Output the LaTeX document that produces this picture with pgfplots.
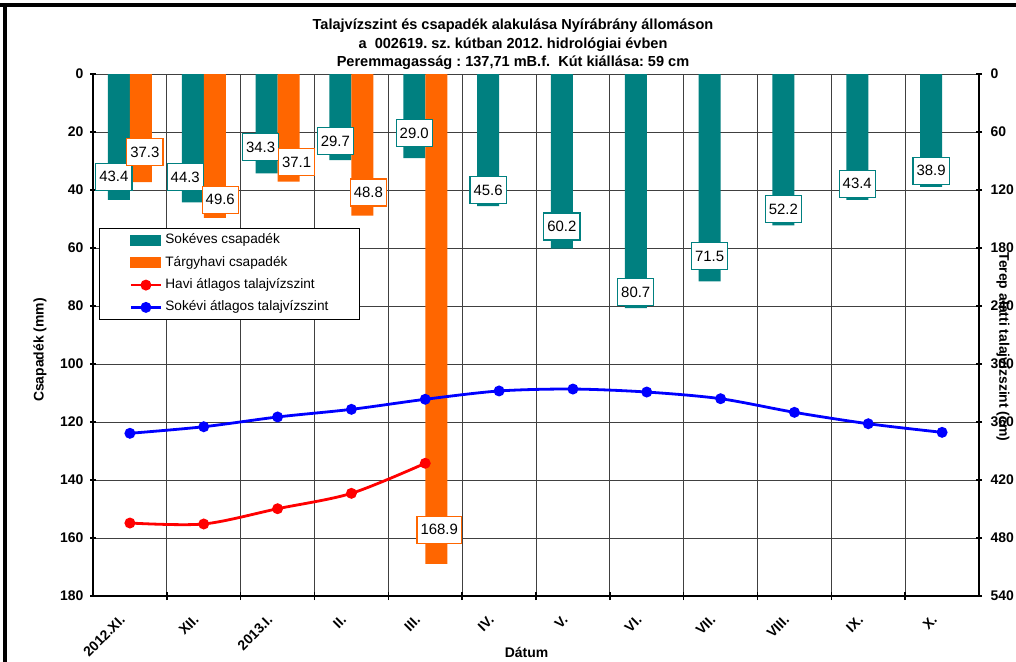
\documentclass[border=0pt]{standalone}
\usepackage{fontspec}
\setmainfont{Liberation Sans}
\usepackage{pgfplots}
\usepackage{pgfplotstable}
\pgfplotsset{compat=1.18}
\frenchspacing

\definecolor{sokcol}{HTML}{008080}
\definecolor{targycol}{HTML}{FF6600}
\definecolor{havicol}{HTML}{FF0000}
\definecolor{sokevicol}{HTML}{0000FF}

% csapadek (mm); dx, dy = label offsets in px
\pgfplotstableread{
x y lab dx dy
0 43.4 43.4 -5 9
1 44.3 44.3 -7.5 11.5
2 34.3 34.3 -6 12
3 29.7 29.7 -5 5
4 29.0 29.0 0 11
5 45.6 45.6 0 2
6 60.2 60.2 0 8
7 80.7 80.7 0 2
8 71.5 71.5 0 11
9 52.2 52.2 0 2
10 43.4 43.4 0 2
11 38.9 38.9 0 2
}\sokeves

\pgfplotstableread{
x y lab dx dy
0 37.3 37.3 4 16
1 49.6 49.6 5.5 4
2 37.1 37.1 8 5.6
3 48.8 48.8 6 9
4 168.9 168.9 3 20
}\targyhavi

\tikzset{
  labelbox/.style={draw=#1, line width=1.2bp, fill=white, text=black,
    font=\fontsize{15}{15}\selectfont, inner xsep=3.5bp, inner ysep=0pt,
    minimum height=27bp},
}

\pgfplotsset{
  common/.style={
    scale only axis, width=886bp, height=522bp,
    xmin=-0.5, xmax=11.5,
    y dir=reverse,
    /pgf/number format/assume math mode=true,
    ticklabel style={font=\bfseries\fontsize{14}{14}\selectfont},
    axis line style={line width=2.2bp, -},
    tick style={black, line width=1.6bp},
    tick align=center,
  },
}

\begin{document}
\begin{tikzpicture}
\useasboundingbox (-93bp,-66bp) rectangle (923bp,596bp);

\begin{axis}[common,
    at={(0,0)}, anchor=south west,
    ymin=0, ymax=180,
    ytick={0,20,...,180},
    xtick={0,...,11},
    xticklabels={2012.XI., XII., 2013.I., II., III., IV., V., VI., VII., VIII., IX., X.},
    minor xtick={0.5,1.5,...,10.5},
    every major x tick/.append style={draw=none},
    major tick length=6bp, minor tick length=8bp,
    xticklabel style={xshift=-11bp, yshift=-15bp, rotate=45, anchor=north east, inner sep=0pt},
    yticklabel style={xshift=-3bp},
    axis x line*=bottom, axis y line*=left,
    ymajorgrids, xminorgrids,
    grid style={black!75, line width=0.8bp},
    minor grid style={black!75, line width=0.8bp},
  ]
  \addplot[ybar, bar width=22bp, bar shift=-11bp, fill=sokcol, draw=none]
    table[x=x, y=y]{\sokeves};
  \addplot[ybar, bar width=22bp, bar shift=11bp, fill=targycol, draw=none]
    table[x=x, y=y]{\targyhavi};

  \addplot[draw=none, mark=none, point meta=explicit symbolic,
    visualization depends on={\thisrow{dx} \as \lbx},
    visualization depends on={\thisrow{dy} \as \lby},
    nodes near coords,
    every node near coord/.style={labelbox=sokcol, anchor=south,
      xshift=\lbx bp-11bp, yshift=\lby bp}]
    table[x=x, y=y, meta=lab]{\sokeves};
  \addplot[draw=none, mark=none, point meta=explicit symbolic,
    visualization depends on={\thisrow{dx} \as \lbx},
    visualization depends on={\thisrow{dy} \as \lby},
    nodes near coords,
    every node near coord/.style={labelbox=targycol, anchor=south,
      xshift=\lbx bp+11bp, yshift=\lby bp}]
    table[x=x, y=y, meta=lab]{\targyhavi};
\end{axis}

\begin{axis}[common,
    at={(0,0)}, anchor=south west,
    ymin=0, ymax=540,
    ytick={0,60,...,540},
    major tick length=6bp,
    yticklabel style={xshift=5bp},
    axis x line=none, axis y line*=right,
    legend image code/.code={\draw[mark repeat=2, mark phase=2, #1]
      plot coordinates {(0bp,0bp) (15bp,0bp) (30bp,0bp)};},
    legend cell align=left,
    legend style={at={(0.0068,0.705)}, anchor=north west,
      draw=black, fill=white, line width=1bp,
      font=\fontsize{13.7}{14}\selectfont,
      inner xsep=30bp, inner ysep=4.5bp, row sep=7.3bp,
      nodes={inner sep=1bp, text height=10bp, text depth=3bp},
      /tikz/every odd column/.style={column sep=2bp}},
  ]
  \addlegendimage{legend image code/.code={\fill[sokcol] (0bp,-5bp) rectangle (30bp,5bp);}}
  \addlegendentry{Sokéves csapadék}
  \addlegendimage{legend image code/.code={\fill[targycol] (0bp,-5bp) rectangle (30bp,5bp);}}
  \addlegendentry{Tárgyhavi csapadék}

  \addplot[havicol, line width=2.8bp, smooth, mark=*, mark size=4bp]
    coordinates {(0,464.5) (1,465.5) (2,449.7) (3,433.8) (4,402.7)};
  \addlegendentry{Havi átlagos talajvízszint}
  \addplot[sokevicol, line width=2.8bp, smooth, mark=*, mark size=4bp]
    coordinates {(0,371.7) (1,364.9) (2,354.8) (3,346.9) (4,336.5) (5,327.9)
                 (6,325.9) (7,329.0) (8,335.9) (9,350.0) (10,361.8) (11,370.7)};
  \addlegendentry{Sokévi átlagos talajvízszint}
\end{axis}

\begin{scope}[every node/.style={font=\bfseries\fontsize{14.6}{15}\selectfont, anchor=base}]
  \node at (420bp,566bp) {Talajvízszint és csapadék alakulása Nyírábrány állomáson};
  \node at (420bp,547.7bp) {a\ \ 002619. sz. kútban 2012. hidrológiai évben};
  \node at (420bp,529.3bp) {Peremmagasság : 137,71 mB.f.\ \ Kút kiállása: 59 cm};
\end{scope}
\node[rotate=90, font=\bfseries\fontsize{14}{14}\selectfont] at (-53bp,246bp) {Csapadék (mm)};
\node[rotate=-90, font=\bfseries\fontsize{14}{14}\selectfont] at (910bp,249bp) {Terep alatti talajvízszint (cm)};
\node[anchor=base, font=\bfseries\fontsize{14}{14}\selectfont] at (433.5bp,-61bp) {Dátum};

\draw[line width=4bp] (-93bp,590.7bp) -- (923bp,590.7bp);
\draw[line width=4bp] (-87.7bp,592.7bp) -- (-87.7bp,-66bp);
\end{tikzpicture}
\end{document}
